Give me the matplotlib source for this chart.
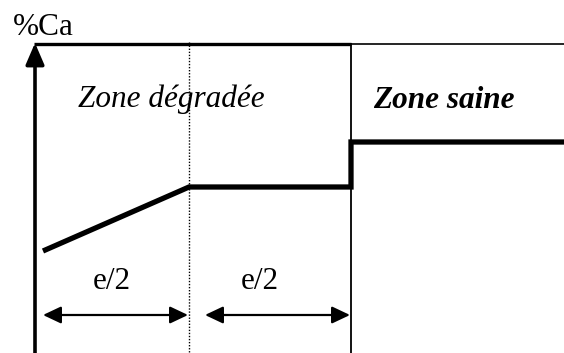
import matplotlib
matplotlib.use("Agg")
import matplotlib.pyplot as plt

# calcium profile across the sample (x = depth, y = %Ca, in figure pixel units, y pointing down)
depth = [43, 189, 351, 351, 564]
calcium = [251, 187, 187, 142, 142]

# zone boundaries (axis origin, middle of degraded zone, degraded/sound interface)
x_axis = 35
x_half = 189
x_front = 351
y_top = 44

zone_labels = ["Zone dégradée", "Zone saine"]
half_label = "e/2"

plt.rcParams['font.family'] = ['Liberation Serif', 'DejaVu Serif']

fig = plt.figure(figsize=(5.64, 3.53), dpi=100)
ax = fig.add_axes([0, 0, 1, 1])
ax.set_xlim(0, 564)
ax.set_ylim(353, 0)
ax.axis('off')

# vertical axis with arrow
ax.annotate('', xy=(x_axis, y_top - 1), xytext=(x_axis, 353),
            arrowprops=dict(arrowstyle='-|>,head_length=0.65,head_width=0.28',
                            lw=2.6, color='black', mutation_scale=20,
                            shrinkA=0, shrinkB=0))

# top border: thick over degraded zone, thin over sound zone
ax.plot([x_axis - 1, x_front], [y_top, y_top], color='black', lw=2.4, solid_capstyle='butt')
ax.plot([x_front, 564], [y_top, y_top], color='black', lw=1.2, solid_capstyle='butt')

# dotted middle line and solid interface line
ax.plot([x_half, x_half], [y_top - 2, 353], color='black', lw=1.0, linestyle=(0, (1, 1.2)))
ax.plot([x_front, x_front], [y_top, 353], color='black', lw=1.3)

# calcium profile
ax.plot(depth, calcium, color='black', lw=3.8, solid_joinstyle='miter', solid_capstyle='butt')

# labels
ax.text(13, 35, "%Ca", fontsize=22.5, ha='left', va='baseline')
ax.text(78, 107, zone_labels[0], fontsize=22.5, style='italic', ha='left', va='baseline')
ax.text(373, 108, zone_labels[1], fontsize=22.5, style='italic', weight='bold',
        ha='left', va='baseline')
ax.text(93, 289, half_label, fontsize=22.5, ha='left', va='baseline')
ax.text(241, 289, half_label, fontsize=22.5, ha='left', va='baseline')

# double arrows for e/2 spans
for x0, x1 in [(43, 188), (205, 350)]:
    ax.annotate('', xy=(x1, 315), xytext=(x0, 315),
                arrowprops=dict(arrowstyle='<|-|>,head_length=0.55,head_width=0.26',
                                lw=1.6, color='black', mutation_scale=20,
                                shrinkA=0, shrinkB=0))

fig.savefig('out.png', dpi=100)
